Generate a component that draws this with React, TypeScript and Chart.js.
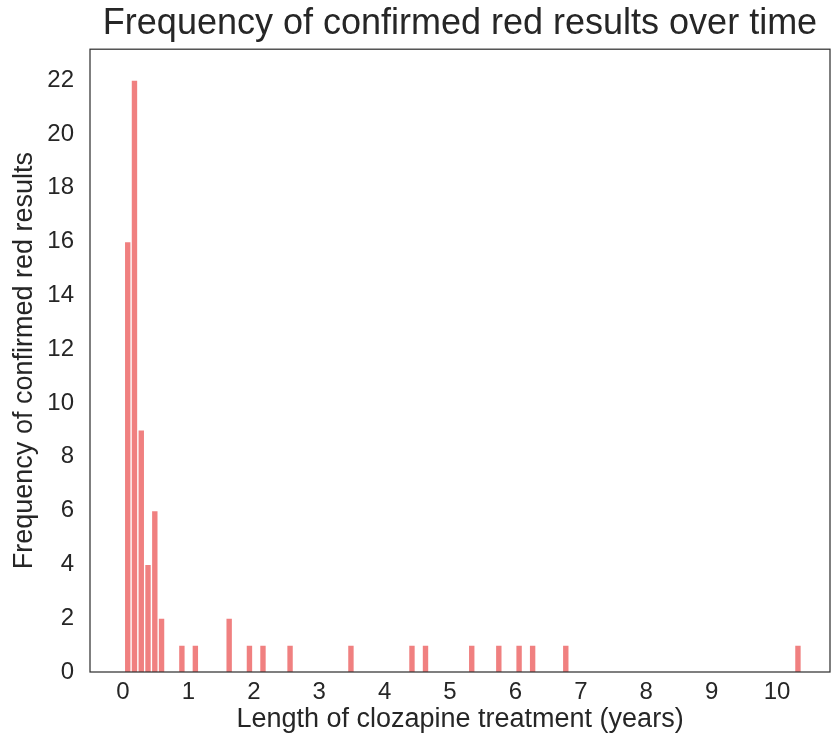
import React, { useEffect, useRef } from "react";
import { Chart, registerables } from "chart.js";

Chart.register(...registerables);

// Histogram bins (centre of bin, in years) that hold at least one result
const binCenters: number[] = [
  0.072, 0.175, 0.279, 0.382, 0.486, 0.589, 0.9, 1.106, 1.623, 1.933, 2.14,
  2.554, 3.485, 4.418, 4.625, 5.332, 5.746, 6.056, 6.263, 6.77, 10.32,
];
// Frequency of confirmed red results in each bin
const counts: number[] = [
  16, 22, 9, 4, 6, 2, 1, 1, 2, 1, 1, 1, 1, 1, 1, 1, 1, 1, 1, 1, 1,
];
const xTicks: number[] = [0, 1, 2, 3, 4, 5, 6, 7, 8, 9, 10];
const yTicks: number[] = [0, 2, 4, 6, 8, 10, 12, 14, 16, 18, 20, 22];

const titleText = "Frequency of confirmed red results over time";
const xTitle = "Length of clozapine treatment (years)";
const yTitle = "Frequency of confirmed red results";

const FONT = "'Liberation Sans', Arial, Helvetica, sans-serif";
const TEXT = "#262626";

export default function App() {
  const ref = useRef<HTMLCanvasElement | null>(null);

  useEffect(() => {
    if (!ref.current) return;
    const framePlugin = {
      id: "frame",
      afterDraw(chart: any) {
        const { ctx, chartArea } = chart;
        ctx.save();
        ctx.strokeStyle = "#333333";
        ctx.lineWidth = 1.25;
        ctx.strokeRect(
          chartArea.left,
          chartArea.top,
          chartArea.right - chartArea.left,
          chartArea.bottom - chartArea.top
        );
        ctx.restore();
      },
    };

    const chart = new Chart(ref.current, {
      type: "bar",
      data: {
        datasets: [
          {
            data: binCenters.map((x, i) => ({ x, y: counts[i] })),
            backgroundColor: "#F08080",
            borderColor: "#ffffff",
            borderWidth: 1,
            borderSkipped: "bottom",
            categoryPercentage: 1,
            barPercentage: 1,
          },
        ],
      },
      options: {
        animation: false,
        responsive: false,
        layout: { padding: { left: 0, right: 2, top: 0, bottom: 0 } },
        plugins: {
          legend: { display: false },
          tooltip: { enabled: false },
          title: {
            display: true,
            text: titleText,
            fullSize: false,
            color: TEXT,
            font: { family: FONT, size: 36, weight: "normal" },
            padding: { top: 2, bottom: 4 },
          },
        },
        scales: {
          x: {
            type: "linear",
            offset: false,
            min: -0.505,
            max: 10.81,
            afterBuildTicks: (s: any) => {
              s.ticks = xTicks.map((v) => ({ value: v }));
            },
            afterFit: (s: any) => {
              s.height = 72;
            },
            grid: { display: false, drawTicks: false, offset: false },
            border: { display: false },
            ticks: {
              color: TEXT,
              font: { family: FONT, size: 24 },
              padding: 6,
              maxRotation: 0,
              autoSkip: false,
              callback: (v: any) => String(v),
            },
            title: {
              display: true,
              text: xTitle,
              color: TEXT,
              font: { family: FONT, size: 27 },
              padding: { top: 0, bottom: 8 },
            },
          },
          y: {
            type: "linear",
            min: 0,
            max: 23.15,
            afterBuildTicks: (s: any) => {
              s.ticks = yTicks.map((v) => ({ value: v }));
            },
            afterFit: (s: any) => {
              s.width = 90;
            },
            grid: { display: false, drawTicks: false },
            border: { display: false },
            ticks: {
              color: TEXT,
              font: { family: FONT, size: 24 },
              padding: 16,
              autoSkip: false,
              callback: (v: any) => String(v),
            },
            title: {
              display: true,
              text: yTitle,
              color: TEXT,
              font: { family: FONT, size: 27 },
              padding: { top: 8, bottom: 0 },
            },
          },
        },
      },
      plugins: [framePlugin],
    } as any);
    return () => chart.destroy();
  }, []);

  return (
    <div style={{ position: "absolute", left: 0, top: 0, width: 832, height: 744, background: "#fff" }}>
      <canvas ref={ref} width={832} height={744} />
    </div>
  );
}
